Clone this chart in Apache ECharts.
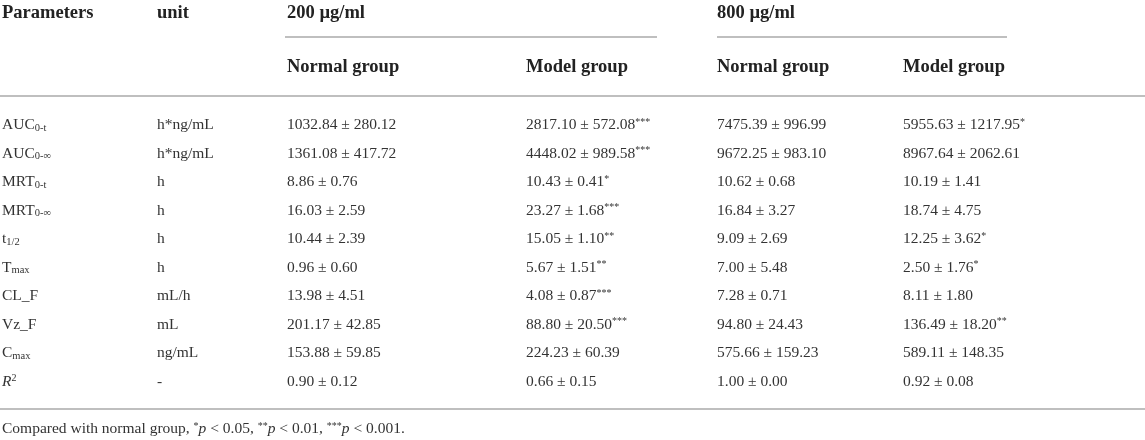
<!DOCTYPE html>
<html>
<head>
<meta charset="utf-8">
<script src="https://cdn.jsdelivr.net/npm/echarts@6/dist/echarts.min.js"></script>
<style>
  html, body { margin: 0; padding: 0; background: #fff; }
  #main { width: 1145px; height: 440px; }
</style>
</head>
<body>
<div id="main"></div>
<script>
// table data
const paramBase = ['AUC', 'AUC', 'MRT', 'MRT', 't', 'T', 'CL_F', 'Vz_F', 'C', 'R'];
const paramSub = ['0-t', '0-∞', '0-t', '0-∞', '1/2', 'max', '', '', 'max', ''];
const units = ['h*ng/mL', 'h*ng/mL', 'h', 'h', 'h', 'h', 'mL/h', 'mL', 'ng/mL', '-'];

const normal200Mean = [1032.84, 1361.08, 8.86, 16.03, 10.44, 0.96, 13.98, 201.17, 153.88, 0.90];
const normal200Sd = [280.12, 417.72, 0.76, 2.59, 2.39, 0.60, 4.51, 42.85, 59.85, 0.12];
const model200Mean = [2817.10, 4448.02, 10.43, 23.27, 15.05, 5.67, 4.08, 88.80, 224.23, 0.66];
const model200Sd = [572.08, 989.58, 0.41, 1.68, 1.10, 1.51, 0.87, 20.50, 60.39, 0.15];
const model200Sig = ['***', '***', '*', '***', '**', '**', '***', '***', '', ''];
const normal800Mean = [7475.39, 9672.25, 10.62, 16.84, 9.09, 7.00, 7.28, 94.80, 575.66, 1.00];
const normal800Sd = [996.99, 983.10, 0.68, 3.27, 2.69, 5.48, 0.71, 24.43, 159.23, 0.00];
const model800Mean = [5955.63, 8967.64, 10.19, 18.74, 12.25, 2.50, 8.11, 136.49, 589.11, 0.92];
const model800Sd = [1217.95, 2062.61, 1.41, 4.75, 3.62, 1.76, 1.80, 18.20, 148.35, 0.08];
const model800Sig = ['*', '', '', '', '*', '*', '', '**', '', ''];

const headTop = ['Parameters', 'unit', '200 µg/ml', '800 µg/ml'];
const headGroups = ['Normal group', 'Model group', 'Normal group', 'Model group'];

// layout (pixels)
const colX = [2, 157, 287, 526, 717, 903];
const rowTop = 111, rowH = 28.5;
const FONT = "'Liberation Serif', 'Times New Roman', serif";
const TXT = '#333';
const LINE = '#aaa';
const FS = 15.5;

const rich = {
  b: { fontFamily: FONT, fontSize: FS, lineHeight: 16, fill: TXT, verticalAlign: 'middle' },
  sub: { fontFamily: FONT, fontSize: 10.5, lineHeight: 6, fill: TXT, verticalAlign: 'bottom' },
  sup: { fontFamily: FONT, fontSize: 10, lineHeight: 8, fill: TXT, verticalAlign: 'top' },
  it: { fontFamily: FONT, fontSize: FS, lineHeight: 16, fill: TXT, fontStyle: 'italic', verticalAlign: 'middle' }
};

function meanSd(m, s, sig, i) {
  let t = '{b|' + m[i].toFixed(2) + ' ± ' + s[i].toFixed(2) + '}';
  if (sig && sig[i]) t += '{sup|' + sig[i] + '}';
  return t;
}

function cellText(c, i) {
  if (c === 0) {
    if (paramBase[i] === 'R') return '{it|R}{sup|2}';
    return '{b|' + paramBase[i] + '}' + (paramSub[i] ? '{sub|' + paramSub[i] + '}' : '');
  }
  if (c === 1) return '{b|' + units[i] + '}';
  if (c === 2) return meanSd(normal200Mean, normal200Sd, null, i);
  if (c === 3) return meanSd(model200Mean, model200Sd, model200Sig, i);
  if (c === 4) return meanSd(normal800Mean, normal800Sd, null, i);
  return meanSd(model800Mean, model800Sd, model800Sig, i);
}

const cells = [];
paramBase.forEach((p, i) => {
  colX.forEach((x, c) => cells.push([x, i, c]));
});

const chart = echarts.init(document.getElementById('main'), null, { renderer: 'canvas' });

const headStyle = { fontFamily: FONT, fontSize: 18.5, fontWeight: 'bold', fill: '#222', verticalAlign: 'middle' };
const graphics = [];
[colX[0], colX[1], colX[2], colX[4]].forEach((x, k) => {
  graphics.push({ type: 'text', x: x, y: 13, style: Object.assign({ text: headTop[k] }, headStyle) });
});
[colX[2], colX[3], colX[4], colX[5]].forEach((x, k) => {
  graphics.push({ type: 'text', x: x, y: 67, style: Object.assign({ text: headGroups[k] }, headStyle) });
});
graphics.push(
  { type: 'line', shape: { x1: 285, y1: 37, x2: 657, y2: 37 }, style: { stroke: LINE, lineWidth: 1.5 } },
  { type: 'line', shape: { x1: 717, y1: 37, x2: 1007, y2: 37 }, style: { stroke: LINE, lineWidth: 1.5 } },
  { type: 'line', shape: { x1: 0, y1: 96, x2: 1145, y2: 96 }, style: { stroke: LINE, lineWidth: 1.5 } },
  { type: 'line', shape: { x1: 0, y1: 409, x2: 1145, y2: 409 }, style: { stroke: LINE, lineWidth: 1.5 } },
  {
    type: 'text', x: 2, y: 429,
    style: {
      text: '{b|Compared with normal group, }{sup|*}{it|p}{b| < 0.05, }{sup|**}{it|p}{b| < 0.01, }{sup|***}{it|p}{b| < 0.001.}',
      rich: rich, fontFamily: FONT, fontSize: FS, fill: TXT, verticalAlign: 'middle'
    }
  }
);

chart.setOption({
  animation: false,
  backgroundColor: '#fff',
  grid: { left: 0, right: 0, top: rowTop, height: rowH * paramBase.length },
  xAxis: { type: 'value', min: 0, max: 1145, show: false },
  yAxis: { type: 'category', data: paramBase.map((p, i) => p + paramSub[i]), inverse: true, show: false },
  graphic: graphics,
  series: [{
    type: 'custom',
    data: cells,
    encode: { x: 0, y: 1 },
    renderItem: function (params, api) {
      const c = api.value(2), r = api.value(1);
      const pt = api.coord([api.value(0), r]);
      return {
        type: 'text',
        x: pt[0], y: pt[1],
        style: {
          text: cellText(c, r),
          rich: rich,
          fontFamily: FONT,
          fontSize: FS,
          fill: TXT,
          align: 'left',
          verticalAlign: 'middle'
        }
      };
    }
  }]
});
</script>
</body>
</html>
